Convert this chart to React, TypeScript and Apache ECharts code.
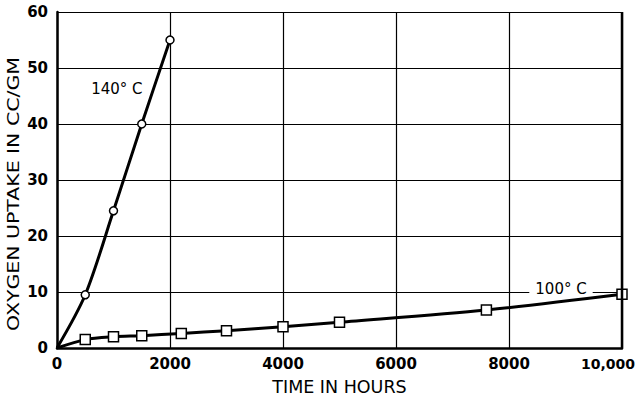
import React, { useEffect, useRef } from "react";
import * as echarts from "echarts";

const hours140 = [0, 500, 1000, 1500, 2000];
const uptake140 = [0, 9.5, 24.5, 40, 55];
const hours100 = [0, 500, 1000, 1500, 2200, 3000, 4000, 5000, 7600, 10000];
const uptake100 = [0, 1.5, 2.0, 2.2, 2.6, 3.1, 3.8, 4.6, 6.8, 9.6];
const xTicks = [0, 2000, 4000, 6000, 8000];
const xLastTick = "10,000";
const yTicks = [0, 10, 20, 30, 40, 50, 60];

const FONT = "'DejaVu Sans', sans-serif";

export default function App() {
  const ref = useRef<HTMLDivElement>(null);
  useEffect(() => {
    if (!ref.current) return;
    const chart = echarts.init(ref.current, null, { renderer: "svg" });
    const d140 = hours140.map((h, i) => ({
      value: [h, uptake140[i]],
      symbol: i === 0 ? "none" : "circle",
    }));
    const d100 = hours100.map((h, i) => ({
      value: [h, uptake100[i]],
      symbol: i === 0 ? "none" : "rect",
    }));
    chart.setOption({
      animation: false,
      backgroundColor: "#fff",
      grid: { left: 57, right: 17, top: 12, bottom: 48, containLabel: false, outerBoundsMode: "none" },
      xAxis: {
        type: "value",
        min: 0,
        max: 10000,
        interval: 2000,
        axisLine: { show: true, lineStyle: { color: "#000", width: 2.5 } },
        axisTick: { show: false },
        splitLine: { show: true, lineStyle: { color: "#000", width: 1.2 } },
        axisLabel: {
          color: "#000",
          fontFamily: FONT,
          fontSize: 15,
          fontWeight: "bold",
          margin: 8,
          formatter: (v: number) => (xTicks.includes(v) ? String(v) : ""),
        },
        name: "TIME IN HOURS",
        nameLocation: "middle",
        nameGap: 30,
        nameTextStyle: { color: "#000", fontFamily: FONT, fontSize: 17.5 },
      },
      yAxis: {
        type: "value",
        min: 0,
        max: 60,
        interval: 10,
        axisLine: { show: true, lineStyle: { color: "#000", width: 2.5 } },
        axisTick: { show: false },
        splitLine: { show: true, lineStyle: { color: "#000", width: 1.2 } },
        axisLabel: {
          color: "#000",
          fontFamily: FONT,
          fontSize: 15,
          fontWeight: "bold",
          margin: 9,
          formatter: (v: number) => (yTicks.includes(v) ? String(v) : ""),
        },
      },
      graphic: [
        {
          type: "line",
          shape: { x1: 622, y1: 12, x2: 622, y2: 348 },
          style: { stroke: "#000", lineWidth: 2.5 },
          z: 10,
        },
        {
          type: "text",
          x: 608,
          y: 357,
          style: {
            text: xLastTick,
            fill: "#000",
            font: `bold 14px ${FONT}`,
            align: "center",
            verticalAlign: "top",
          },
        },
        {
          type: "text",
          x: 5,
          y: 194,
          rotation: Math.PI / 2,
          scaleX: 1.28,
          style: {
            text: "OXYGEN UPTAKE IN CC/GM",
            fill: "#000",
            font: `16px ${FONT}`,
            align: "center",
            verticalAlign: "top",
          },
        },
      ],
      series: [
        {
          type: "line",
          data: d140,
          smooth: 0.3,
          symbolSize: 8,
          itemStyle: { color: "#fff", borderColor: "#000", borderWidth: 1.5 },
          lineStyle: { color: "#000", width: 3 },
          z: 5,
          markPoint: {
            symbol: "rect",
            symbolSize: 0,
            data: [{ coord: [1060, 46.2], value: "140°C" }],
            label: {
              show: true,
              formatter: "140° C",
              color: "#000",
              fontFamily: FONT,
              fontSize: 15,
              backgroundColor: "#fff",
              padding: [1, 2],
            },
          },
        },
        {
          type: "line",
          data: d100,
          smooth: 0.3,
          symbolSize: 10,
          itemStyle: { color: "#fff", borderColor: "#000", borderWidth: 1.5 },
          lineStyle: { color: "#000", width: 3 },
          z: 5,
          markPoint: {
            symbol: "rect",
            symbolSize: 0,
            data: [{ coord: [8920, 10.6], value: "100°C" }],
            label: {
              show: true,
              formatter: "100° C",
              color: "#000",
              fontFamily: FONT,
              fontSize: 15,
              backgroundColor: "#fff",
              padding: [1, 6],
            },
          },
        },
      ],
    });
    return () => chart.dispose();
  }, []);
  return <div ref={ref} style={{ width: 639, height: 396, position: "absolute", left: 0, top: 0 }} />;
}
